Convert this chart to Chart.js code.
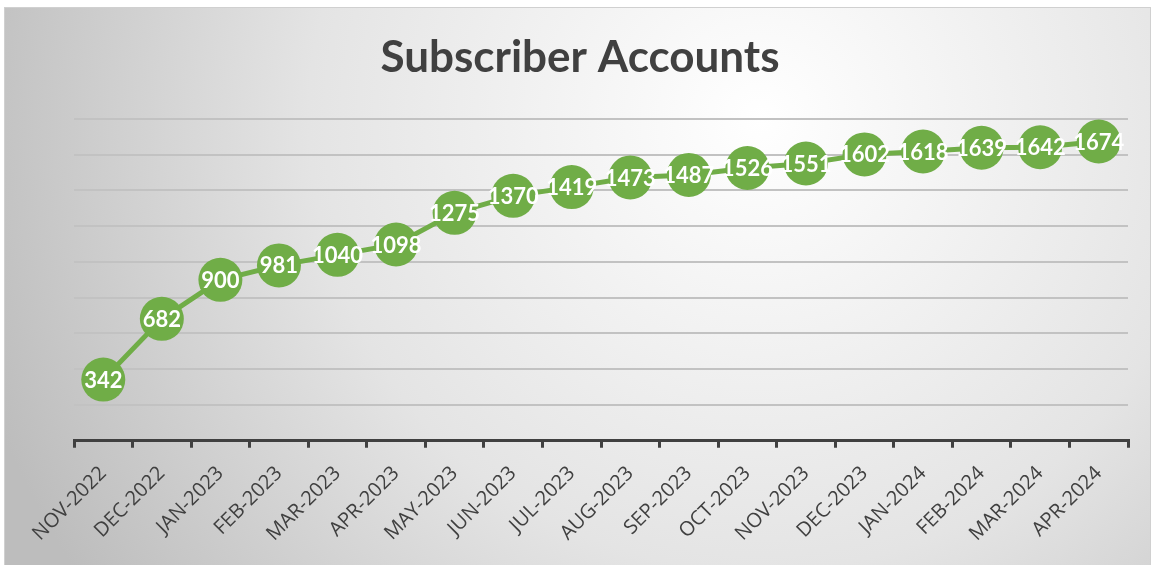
<!DOCTYPE html>
<html>
<head>
<meta charset="utf-8">
<script src="https://cdn.jsdelivr.net/npm/chart.js@4.4.0/dist/chart.umd.min.js"></script>
<style>
  body { margin: 0; background: #fff; }
  #wrap { width: 1155px; height: 565px; position: relative; }
</style>
</head>
<body>
<div id="wrap"><canvas id="subChart"></canvas></div>
<script>
var months = ["NOV-2022","DEC-2022","JAN-2023","FEB-2023","MAR-2023","APR-2023","MAY-2023","JUN-2023","JUL-2023","AUG-2023","SEP-2023","OCT-2023","NOV-2023","DEC-2023","JAN-2024","FEB-2024","MAR-2024","APR-2024"];
var accounts = [342,682,900,981,1040,1098,1275,1370,1419,1473,1487,1526,1551,1602,1618,1639,1642,1674];
var yMin = 0, yMax = 1800, yStep = 200;
var chartTitle = "Subscriber Accounts";

var green = "#70AD47";
var darkText = "#404040";

// gray radial backdrop + centred title
const backdrop = {
  id: "backdrop",
  beforeDraw(chart) {
    const ctx = chart.ctx;
    ctx.save();
    ctx.fillStyle = "#ffffff";
    ctx.fillRect(0, 0, chart.width, chart.height);
    let g = ctx.createRadialGradient(760, 120, 0, 760, 120, 820);
    g.addColorStop(0, "#ffffff");
    g.addColorStop(0.55, "#e4e4e4");
    g.addColorStop(1, "#bdbdbd");
    ctx.fillStyle = g;
    ctx.fillRect(4, 7, 1147, 558);
    ctx.strokeStyle = "#d0d0d0";
    ctx.lineWidth = 1;
    ctx.strokeRect(4.5, 7.5, 1146, 560);

    ctx.font = "bold 44px Lato";
    ctx.fillStyle = darkText;
    ctx.textAlign = "center";
    ctx.textBaseline = "middle";
    ctx.fillText(chartTitle, 580, 58);
    ctx.restore();
  }
};

// value text drawn on top of each bubble
const pointLabels = {
  id: "pointLabels",
  afterDatasetsDraw(chart) {
    const ctx = chart.ctx;
    const meta = chart.getDatasetMeta(0);
    ctx.save();
    ctx.font = "bold 22px Lato";
    ctx.fillStyle = "#ffffff";
    ctx.textAlign = "center";
    ctx.textBaseline = "middle";
    meta.data.forEach(function (pt, i) {
      ctx.fillText(String(accounts[i]), pt.x, pt.y + 1);
    });
    ctx.restore();
  }
};

new Chart(document.getElementById("subChart"), {
  type: "line",
  data: {
    labels: months,
    datasets: [{
      data: accounts,
      borderColor: green,
      borderWidth: 5,
      backgroundColor: green,
      pointRadius: 22,
      pointHoverRadius: 22,
      pointBorderWidth: 0,
      pointBackgroundColor: green,
      tension: 0
    }]
  },
  options: {
    responsive: true,
    maintainAspectRatio: false,
    animation: false,
    events: [],
    layout: { padding: { left: 74, right: 27, top: 119, bottom: 5 } },
    plugins: {
      legend: { display: false },
      tooltip: { enabled: false },
      title: { display: false }
    },
    scales: {
      x: {
        offset: true,
        grid: {
          offset: true,
          drawOnChartArea: false,
          color: darkText,
          lineWidth: 3,
          tickLength: 7
        },
        border: { color: darkText, width: 3 },
        ticks: {
          color: darkText,
          font: { family: "Open Sans", size: 20 },
          maxRotation: 45,
          minRotation: 45,
          autoSkip: false,
          padding: 14
        }
      },
      y: {
        min: yMin,
        max: yMax,
        ticks: { stepSize: yStep, display: false },
        border: { display: false },
        grid: { color: "#c2c2c2", lineWidth: 2, drawTicks: false }
      }
    }
  },
  plugins: [backdrop, pointLabels]
});
</script>
</body>
</html>
